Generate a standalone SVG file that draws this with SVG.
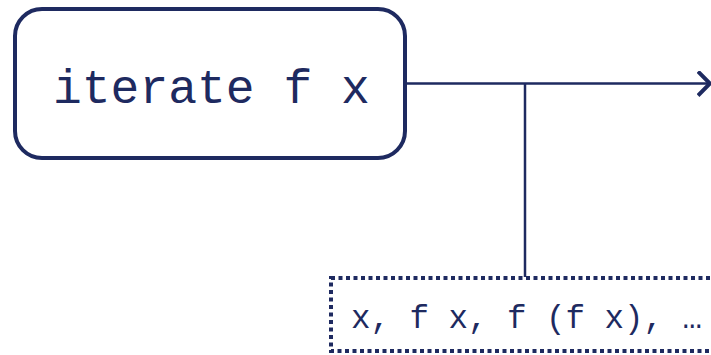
<svg xmlns="http://www.w3.org/2000/svg" width="711" height="355" viewBox="0 0 711 355">
<defs>
<style>
.c{stroke:#1e2a60;fill:none}
.t{font-family:"Liberation Mono","Courier New",monospace;fill:#1e2a60}
</style>
<marker id="ah" markerWidth="16" markerHeight="28" refX="13" refY="13" orient="auto" markerUnits="userSpaceOnUse">
<path d="M1,1 L13,13 L1,25" fill="none" stroke="#1e2a60" stroke-width="4"/>
</marker>
</defs>
<g id="connectors">
<path class="c" d="M406,83.5 H710" stroke-width="2.5" marker-end="url(#ah)"/>
<path class="c" d="M525,83.5 V277" stroke-width="2.5"/>
</g>
<g id="iterate">
<rect class="c" x="15" y="9" width="390" height="149" rx="27" stroke-width="4" fill="#fff"/>
<text class="t" x="53" y="103" font-size="48">iterate f x</text>
</g>
<g id="result">
<rect class="c" x="331" y="278" width="400" height="73" stroke-width="4" stroke-dasharray="4,3.5" fill="#fff"/>
<text class="t" x="351" y="328" font-size="32.5">x, f x, f (f x), …</text>
</g>
</svg>
